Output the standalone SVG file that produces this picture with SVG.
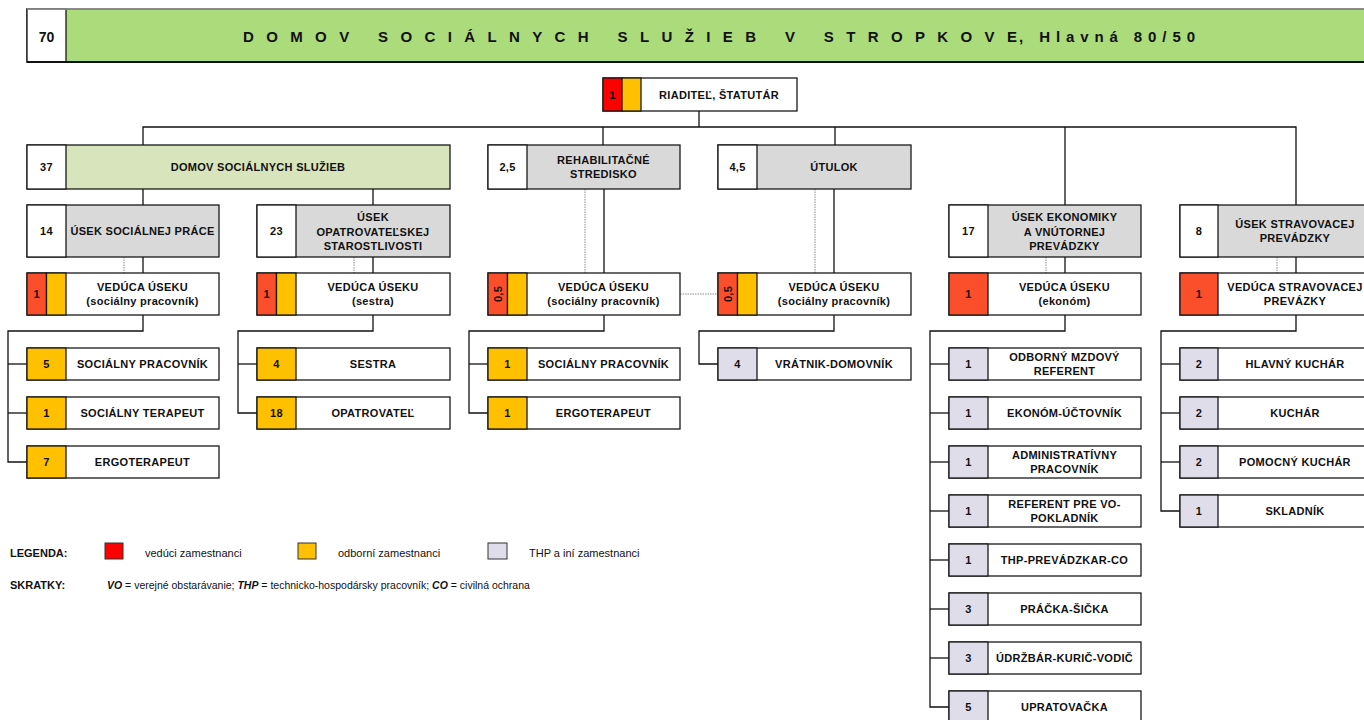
<svg xmlns="http://www.w3.org/2000/svg" width="1364" height="720" viewBox="0 0 1364 720">
<style>
.bx{stroke:#1a1a1a;stroke-width:1.3}
.w{fill:#fff}.g{fill:#d9d9d9}.lg{fill:#d8e4bc}.hg{fill:#acdb7b}.r{fill:#ff0000}.r2{fill:#fb4f2b}.o{fill:#ffc000}.l{fill:#e0ddeb}
.t{font-family:"Liberation Sans",Arial,sans-serif;font-weight:bold;font-size:11px;letter-spacing:0.3px;text-anchor:middle;fill:#111}
.c{fill:none;stroke:#111;stroke-width:1.3}
.d{fill:none;stroke:#8c8c8c;stroke-width:1;stroke-dasharray:1.5 1}
.lt{font-family:"Liberation Sans",Arial,sans-serif;font-size:11px;fill:#111}
.lb{font-family:"Liberation Sans",Arial,sans-serif;font-size:11px;font-weight:bold;fill:#111}
.sk{font-family:"Liberation Sans",Arial,sans-serif;font-size:10.5px;fill:#111}
.bi{font-weight:bold;font-style:italic}
.ti{font-family:"Liberation Sans",Arial,sans-serif;font-weight:bold;font-size:15px;fill:#111}
</style>
<rect width="1364" height="720" fill="#fff"/>

<g id="header">
<rect class="bx hg" x="27" y="9" width="1345" height="53"/>
<rect class="bx w" x="27" y="9" width="39" height="53"/>
<line x1="27" y1="9" x2="1372" y2="9" stroke="#999" stroke-width="1.6"/>
<line x1="27" y1="62" x2="1372" y2="62" stroke="#111" stroke-width="2"/>
<text class="t" x="46.5" y="42" style="font-size:14px;letter-spacing:0">70</text>
<text class="ti" x="243" y="42" textLength="774" lengthAdjust="spacing">DOMOV SOCIÁLNYCH SLUŽIEB V STROPKOVE</text>
<text class="ti" x="1019" y="42" textLength="176" lengthAdjust="spacing">, Hlavná 80/50</text>
</g>

<g id="connectors">
<polyline class="c" points="699,111 699,127"/>
<polyline class="c" points="143,145 143,127 1296,127 1296,205"/>
<line class="c" x1="603" y1="127" x2="603" y2="145"/>
<line class="c" x1="835" y1="127" x2="835" y2="145"/>
<line class="c" x1="1065" y1="127" x2="1065" y2="205"/>
<line class="c" x1="143" y1="189" x2="143" y2="205"/>
<line class="c" x1="373" y1="189" x2="373" y2="205"/>
<line class="c" x1="143" y1="257" x2="143" y2="273"/>
<line class="d" x1="124" y1="257" x2="124" y2="273"/>
<line class="c" x1="373" y1="257" x2="373" y2="273"/>
<line class="d" x1="354" y1="257" x2="354" y2="273"/>
<line class="c" x1="604" y1="189" x2="604" y2="273"/>
<line class="d" x1="585" y1="189" x2="585" y2="273"/>
<line class="c" x1="834" y1="189" x2="834" y2="273"/>
<line class="d" x1="815" y1="189" x2="815" y2="273"/>
<line class="c" x1="1065" y1="257" x2="1065" y2="273"/>
<line class="d" x1="1046" y1="257" x2="1046" y2="273"/>
<line class="c" x1="1296" y1="257" x2="1296" y2="273"/>
<line class="d" x1="1277" y1="257" x2="1277" y2="273"/>
<line class="d" x1="680" y1="294" x2="718" y2="294"/>
<polyline class="c" points="143,315 143,331 8,331 8,462 27,462"/>
<line class="c" x1="8" y1="364" x2="27" y2="364"/>
<line class="c" x1="8" y1="413" x2="27" y2="413"/>
<polyline class="c" points="373,315 373,331 238,331 238,413 257,413"/>
<line class="c" x1="238" y1="364" x2="257" y2="364"/>
<polyline class="c" points="604,315 604,331 469,331 469,413 488,413"/>
<line class="c" x1="469" y1="364" x2="488" y2="364"/>
<polyline class="c" points="834,315 834,331 699,331 699,364 718,364"/>
<polyline class="c" points="1065,315 1065,331 930,331 930,707 949,707"/>
<line class="c" x1="930" y1="364" x2="949" y2="364"/>
<line class="c" x1="930" y1="413" x2="949" y2="413"/>
<line class="c" x1="930" y1="462" x2="949" y2="462"/>
<line class="c" x1="930" y1="511" x2="949" y2="511"/>
<line class="c" x1="930" y1="560" x2="949" y2="560"/>
<line class="c" x1="930" y1="609" x2="949" y2="609"/>
<line class="c" x1="930" y1="658" x2="949" y2="658"/>
<polyline class="c" points="1296,315 1296,331 1161,331 1161,511 1180,511"/>
<line class="c" x1="1161" y1="364" x2="1180" y2="364"/>
<line class="c" x1="1161" y1="413" x2="1180" y2="413"/>
<line class="c" x1="1161" y1="462" x2="1180" y2="462"/>
</g>

<g id="riaditel">
<rect class="bx w" x="603" y="78" width="194" height="33"/>
<rect class="bx r" x="603" y="78" width="19" height="33"/>
<rect class="bx o" x="622" y="78" width="19" height="33"/>
<text class="t" x="612.5" y="98.5">1</text>
<text class="t" x="719" y="98.5">RIADITEĽ, ŠTATUTÁR</text>
</g>

<g id="dss">
<rect class="bx lg" x="27" y="145" width="423" height="44"/>
<rect class="bx w" x="27" y="145" width="39" height="44"/>
<text class="t" x="46.5" y="171">37</text>
<text class="t" x="258" y="171">DOMOV SOCIÁLNYCH SLUŽIEB</text>
</g>
<g id="rehab">
<rect class="bx g" x="488" y="145" width="192" height="44"/>
<rect class="bx w" x="488" y="145" width="39" height="44"/>
<text class="t" x="507.5" y="171">2,5</text>
<text class="t" x="603.5" y="164">REHABILITAČNÉ</text>
<text class="t" x="603.5" y="178">STREDISKO</text>
</g>
<g id="utulok">
<rect class="bx g" x="718" y="145" width="193" height="44"/>
<rect class="bx w" x="718" y="145" width="39" height="44"/>
<text class="t" x="737.5" y="171">4,5</text>
<text class="t" x="834" y="171">ÚTULOK</text>
</g>

<g id="usek-soc">
<rect class="bx g" x="27" y="205" width="192" height="52"/>
<rect class="bx w" x="27" y="205" width="39" height="52"/>
<text class="t" x="46.5" y="235">14</text>
<text class="t" x="142.5" y="235">ÚSEK SOCIÁLNEJ PRÁCE</text>
</g>
<g id="usek-opatr">
<rect class="bx g" x="257" y="205" width="193" height="52"/>
<rect class="bx w" x="257" y="205" width="39" height="52"/>
<text class="t" x="276.5" y="235">23</text>
<text class="t" x="373" y="221">ÚSEK</text>
<text class="t" x="373" y="235.5">OPATROVATEĽSKEJ</text>
<text class="t" x="373" y="250">STAROSTLIVOSTI</text>
</g>
<g id="usek-ekon">
<rect class="bx g" x="949" y="205" width="192" height="52"/>
<rect class="bx w" x="949" y="205" width="39" height="52"/>
<text class="t" x="968.5" y="235">17</text>
<text class="t" x="1064.5" y="221">ÚSEK EKONOMIKY</text>
<text class="t" x="1064.5" y="235.5">A VNÚTORNEJ</text>
<text class="t" x="1064.5" y="250">PREVÁDZKY</text>
</g>
<g id="usek-strav">
<rect class="bx g" x="1180" y="205" width="192" height="52"/>
<rect class="bx w" x="1180" y="205" width="38" height="52"/>
<text class="t" x="1199" y="235">8</text>
<text class="t" x="1295" y="227.5">ÚSEK STRAVOVACEJ</text>
<text class="t" x="1295" y="242">PREVÁDZKY</text>
</g>

<g id="veduca-soc">
<rect class="bx w" x="27" y="273" width="192" height="42"/>
<rect class="bx r2" x="27" y="273" width="19.5" height="42"/>
<rect class="bx o" x="46.5" y="273" width="19.5" height="42"/>
<text class="t" x="36.75" y="298">1</text>
<text class="t" x="142.5" y="291">VEDÚCA ÚSEKU</text>
<text class="t" x="142.5" y="305">(sociálny pracovník)</text>
</g>
<g id="veduca-opatr">
<rect class="bx w" x="257" y="273" width="193" height="42"/>
<rect class="bx r2" x="257" y="273" width="19.5" height="42"/>
<rect class="bx o" x="276.5" y="273" width="19.5" height="42"/>
<text class="t" x="266.75" y="298">1</text>
<text class="t" x="373" y="291">VEDÚCA ÚSEKU</text>
<text class="t" x="373" y="305">(sestra)</text>
</g>
<g id="veduca-rehab">
<rect class="bx w" x="488" y="273" width="192" height="42"/>
<rect class="bx r2" x="488" y="273" width="19.5" height="42"/>
<rect class="bx o" x="507.5" y="273" width="19.5" height="42"/>
<text class="t" transform="translate(501.8,294) rotate(-90)" x="0" y="0">0,5</text>
<text class="t" x="603.5" y="291">VEDÚCA ÚSEKU</text>
<text class="t" x="603.5" y="305">(sociálny pracovník)</text>
</g>
<g id="veduca-utulok">
<rect class="bx w" x="718" y="273" width="193" height="42"/>
<rect class="bx r2" x="718" y="273" width="19.5" height="42"/>
<rect class="bx o" x="737.5" y="273" width="19.5" height="42"/>
<text class="t" transform="translate(731.8,294) rotate(-90)" x="0" y="0">0,5</text>
<text class="t" x="834" y="291">VEDÚCA ÚSEKU</text>
<text class="t" x="834" y="305">(sociálny pracovník)</text>
</g>
<g id="veduca-ekon">
<rect class="bx w" x="949" y="273" width="192" height="42"/>
<rect class="bx r2" x="949" y="273" width="39" height="42"/>
<text class="t" x="968.5" y="298">1</text>
<text class="t" x="1064.5" y="291">VEDÚCA ÚSEKU</text>
<text class="t" x="1064.5" y="305">(ekonóm)</text>
</g>
<g id="veduca-strav">
<rect class="bx w" x="1180" y="273" width="192" height="42"/>
<rect class="bx r2" x="1180" y="273" width="38" height="42"/>
<text class="t" x="1199" y="298">1</text>
<text class="t" x="1295" y="291">VEDÚCA STRAVOVACEJ</text>
<text class="t" x="1295" y="305">PREVÁZKY</text>
</g>

<g id="soc-pracovnik"><rect class="bx w" x="27" y="348" width="192" height="32"/><rect class="bx o" x="27" y="348" width="39" height="32"/><text class="t" x="46.5" y="368">5</text><text class="t" x="142.5" y="368">SOCIÁLNY PRACOVNÍK</text></g>
<g id="soc-terapeut"><rect class="bx w" x="27" y="397" width="192" height="32"/><rect class="bx o" x="27" y="397" width="39" height="32"/><text class="t" x="46.5" y="417">1</text><text class="t" x="142.5" y="417">SOCIÁLNY TERAPEUT</text></g>
<g id="soc-ergo"><rect class="bx w" x="27" y="446" width="192" height="32"/><rect class="bx o" x="27" y="446" width="39" height="32"/><text class="t" x="46.5" y="466">7</text><text class="t" x="142.5" y="466">ERGOTERAPEUT</text></g>
<g id="sestra"><rect class="bx w" x="257" y="348" width="193" height="32"/><rect class="bx o" x="257" y="348" width="39" height="32"/><text class="t" x="276.5" y="368">4</text><text class="t" x="373" y="368">SESTRA</text></g>
<g id="opatrovatel"><rect class="bx w" x="257" y="397" width="193" height="32"/><rect class="bx o" x="257" y="397" width="39" height="32"/><text class="t" x="276.5" y="417">18</text><text class="t" x="373" y="417">OPATROVATEĽ</text></g>
<g id="rehab-soc"><rect class="bx w" x="488" y="348" width="192" height="32"/><rect class="bx o" x="488" y="348" width="39" height="32"/><text class="t" x="507.5" y="368">1</text><text class="t" x="603.5" y="368">SOCIÁLNY PRACOVNÍK</text></g>
<g id="rehab-ergo"><rect class="bx w" x="488" y="397" width="192" height="32"/><rect class="bx o" x="488" y="397" width="39" height="32"/><text class="t" x="507.5" y="417">1</text><text class="t" x="603.5" y="417">ERGOTERAPEUT</text></g>
<g id="vratnik"><rect class="bx w" x="718" y="348" width="193" height="32"/><rect class="bx l" x="718" y="348" width="39" height="32"/><text class="t" x="737.5" y="368">4</text><text class="t" x="834" y="368">VRÁTNIK-DOMOVNÍK</text></g>
<g id="mzdovy"><rect class="bx w" x="949" y="348" width="192" height="32"/><rect class="bx l" x="949" y="348" width="39" height="32"/><text class="t" x="968.5" y="368">1</text><text class="t" x="1064.5" y="360.5">ODBORNÝ MZDOVÝ</text><text class="t" x="1064.5" y="375">REFERENT</text></g>
<g id="uctovnik"><rect class="bx w" x="949" y="397" width="192" height="32"/><rect class="bx l" x="949" y="397" width="39" height="32"/><text class="t" x="968.5" y="417">1</text><text class="t" x="1064.5" y="417">EKONÓM-ÚČTOVNÍK</text></g>
<g id="admin"><rect class="bx w" x="949" y="446" width="192" height="32"/><rect class="bx l" x="949" y="446" width="39" height="32"/><text class="t" x="968.5" y="466">1</text><text class="t" x="1064.5" y="458.5">ADMINISTRATÍVNY</text><text class="t" x="1064.5" y="473">PRACOVNÍK</text></g>
<g id="pokladnik"><rect class="bx w" x="949" y="495" width="192" height="32"/><rect class="bx l" x="949" y="495" width="39" height="32"/><text class="t" x="968.5" y="515">1</text><text class="t" x="1064.5" y="507.5">REFERENT PRE VO-</text><text class="t" x="1064.5" y="522">POKLADNÍK</text></g>
<g id="thp"><rect class="bx w" x="949" y="544" width="192" height="32"/><rect class="bx l" x="949" y="544" width="39" height="32"/><text class="t" x="968.5" y="564">1</text><text class="t" x="1064.5" y="564">THP-PREVÁDZKAR-CO</text></g>
<g id="pracka"><rect class="bx w" x="949" y="593" width="192" height="32"/><rect class="bx l" x="949" y="593" width="39" height="32"/><text class="t" x="968.5" y="613">3</text><text class="t" x="1064.5" y="613">PRÁČKA-ŠIČKA</text></g>
<g id="udrzbar"><rect class="bx w" x="949" y="642" width="192" height="32"/><rect class="bx l" x="949" y="642" width="39" height="32"/><text class="t" x="968.5" y="662">3</text><text class="t" x="1064.5" y="662">ÚDRŽBÁR-KURIČ-VODIČ</text></g>
<g id="upratovacka"><rect class="bx w" x="949" y="691" width="192" height="32"/><rect class="bx l" x="949" y="691" width="39" height="32"/><text class="t" x="968.5" y="711">5</text><text class="t" x="1064.5" y="711">UPRATOVAČKA</text></g>
<g id="hlavny-kuchar"><rect class="bx w" x="1180" y="348" width="192" height="32"/><rect class="bx l" x="1180" y="348" width="38" height="32"/><text class="t" x="1199" y="368">2</text><text class="t" x="1295" y="368">HLAVNÝ KUCHÁR</text></g>
<g id="kuchar"><rect class="bx w" x="1180" y="397" width="192" height="32"/><rect class="bx l" x="1180" y="397" width="38" height="32"/><text class="t" x="1199" y="417">2</text><text class="t" x="1295" y="417">KUCHÁR</text></g>
<g id="pomocny-kuchar"><rect class="bx w" x="1180" y="446" width="192" height="32"/><rect class="bx l" x="1180" y="446" width="38" height="32"/><text class="t" x="1199" y="466">2</text><text class="t" x="1295" y="466">POMOCNÝ KUCHÁR</text></g>
<g id="skladnik"><rect class="bx w" x="1180" y="495" width="192" height="32"/><rect class="bx l" x="1180" y="495" width="38" height="32"/><text class="t" x="1199" y="515">1</text><text class="t" x="1295" y="515">SKLADNÍK</text></g>

<g id="legend">
<text class="lb" x="10" y="557">LEGENDA:</text>
<rect class="r" x="105" y="543" width="18" height="16" stroke="#333" stroke-width="1"/>
<text class="lt" x="145" y="557">vedúci zamestnanci</text>
<rect class="o" x="298" y="543" width="18" height="16" stroke="#333" stroke-width="1"/>
<text class="lt" x="338" y="557">odborní zamestnanci</text>
<rect class="l" x="488" y="543" width="19" height="16" stroke="#333" stroke-width="1"/>
<text class="lt" x="529" y="557">THP a iní zamestnanci</text>
<text class="lb" x="10" y="589">SKRATKY:</text>
<text class="sk" x="107" y="589"><tspan class="bi">VO</tspan> = verejné obstarávanie; <tspan class="bi">THP</tspan> = technicko-hospodársky pracovník; <tspan class="bi">CO</tspan> = civilná ochrana</text>
</g>
</svg>
